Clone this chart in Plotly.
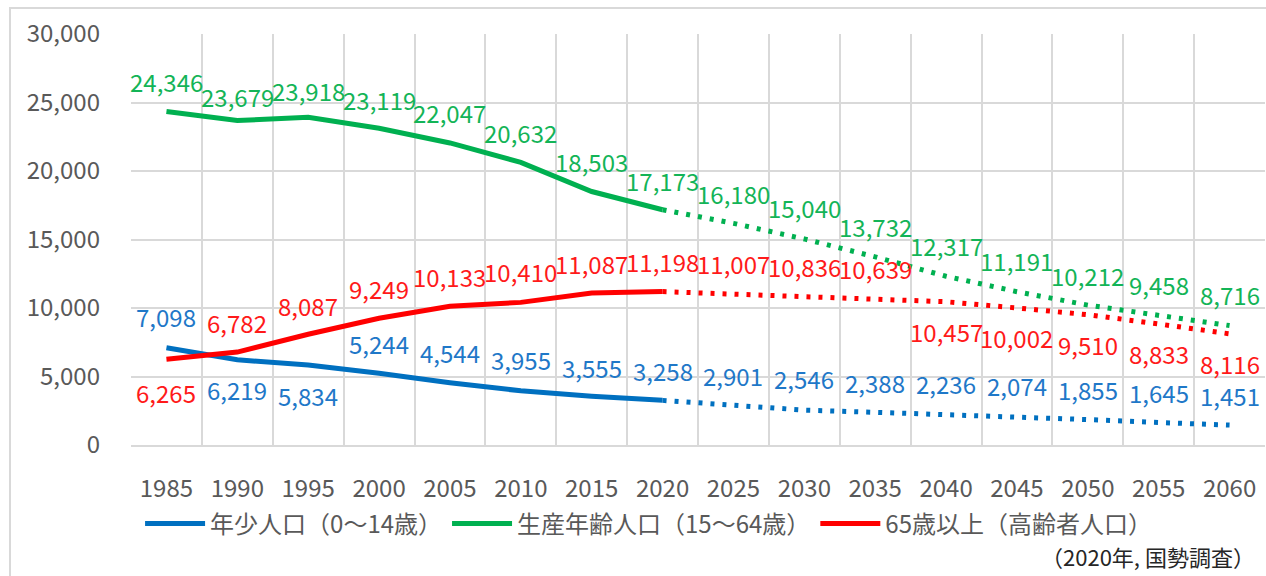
import plotly.graph_objects as go

years = ["1985", "1990", "1995", "2000", "2005", "2010", "2015", "2020",
         "2025", "2030", "2035", "2040", "2045", "2050", "2055", "2060"]
young = [7098, 6219, 5834, 5244, 4544, 3955, 3555, 3258,
         2901, 2546, 2388, 2236, 2074, 1855, 1645, 1451]
working = [24346, 23679, 23918, 23119, 22047, 20632, 18503, 17173,
           16180, 15040, 13732, 12317, 11191, 10212, 9458, 8716]
elderly = [6265, 6782, 8087, 9249, 10133, 10410, 11087, 11198,
           11007, 10836, 10639, 10457, 10002, 9510, 8833, 8116]

names = ["年少人口（0～14歳）", "生産年齢人口（15～64歳）", "65歳以上（高齢者人口）"]
source_note = "（2020年, 国勢調査）"

# label offsets in px (positive = above the point)
young_off = [31, -30, -30, 30, 30, 31, 29, 30, 30, 32, 30, 31, 31, 30, 30, 30]
working_off = [30, 24, 27, 29, 30, 30, 30, 29, 30, 31, 30, 31, 31, 30, 31, 31]
elderly_off = [-33, 30, 29, 30, 30, 31, 30, 30, 31, 30, 31, -30, -30, -30, -30, -30]

colors = ["#0070C0", "#00B050", "#FF0000"]
label_colors = ["#1F78C8", "#13B457", "#FF1A1A"]
FONT = "Noto Sans CJK JP"
split = years.index("2020")

fig = go.Figure()
idx = list(range(len(years)))
series = [young, working, elderly]
offsets = [young_off, working_off, elderly_off]

for s, vals in enumerate(series):
    fig.add_trace(go.Scatter(
        x=idx[:split + 1], y=vals[:split + 1], mode="lines", name=names[s],
        legendgroup=str(s), line=dict(color=colors[s], width=5),
        hoverinfo="skip"))
    fig.add_trace(go.Scatter(
        x=idx[split:], y=vals[split:], mode="lines", showlegend=False,
        legendgroup=str(s), line=dict(color=colors[s], width=5, dash="4px,8px"),
        hoverinfo="skip"))

W0, W1, H0, H1 = 131, 1265, 445, 34

annotations = []
for s, vals in enumerate(series):
    for i, v in enumerate(vals):
        annotations.append(dict(
            x=i, y=v, xref="x", yref="y", text=f"{v:,}", showarrow=False,
            yshift=offsets[s][i], xanchor="center", yanchor="middle",
            font=dict(family=FONT, size=24, color=label_colors[s])))

annotations.append(dict(
    x=(1257 - W0) / (W1 - W0), y=(H0 - 556) / (H0 - H1),
    xref="paper", yref="paper", text=source_note, showarrow=False,
    xanchor="right", yanchor="middle",
    font=dict(family=FONT, size=22, color="#262626")))

fig.update_layout(
    width=1266, height=576,
    margin=dict(l=131, r=1, t=34, b=131),
    paper_bgcolor="white", plot_bgcolor="white",
    font=dict(family=FONT, size=24, color="#595959"),
    showlegend=True,
    legend=dict(orientation="h", x=0.008, xanchor="left",
                y=(H0 - 524) / (H0 - H1), yanchor="middle",
                font=dict(family=FONT, size=24, color="#595959"),
                itemwidth=60, bgcolor="rgba(0,0,0,0)"),
    annotations=annotations,
)

fig.update_xaxes(
    range=[-0.5, 15.5], tickmode="array", tickvals=idx, ticktext=years,
    showgrid=False, zeroline=False, showline=True, linecolor="#d9d9d9", linewidth=2,
    ticks="", ticklabelstandoff=21,
    tickfont=dict(family=FONT, size=24, color="#595959"),
    minor=dict(tickmode="array", tickvals=[i + 0.5 for i in idx], showgrid=True,
               gridcolor="#d9d9d9", gridwidth=2, ticks=""),
)
fig.update_yaxes(
    range=[0, 30000], dtick=5000, tickformat=",", showgrid=True,
    gridcolor="#d9d9d9", gridwidth=2, zeroline=False, showline=False,
    ticks="", ticklabelstandoff=30,
    tickfont=dict(family=FONT, size=24, color="#595959"),
)

# outer chart border
fig.add_shape(type="rect", xref="paper", yref="paper",
              x0=(10 - W0) / (W1 - W0), x1=(1300 - W0) / (W1 - W0),
              y0=(H0 - 600) / (H0 - H1), y1=(H0 - 8) / (H0 - H1),
              line=dict(color="#d9d9d9", width=2), layer="below")

fig.write_html("out.html", config={"displayModeBar": False},
               post_script="document.body.style.margin='0';document.body.style.overflow='hidden';")
